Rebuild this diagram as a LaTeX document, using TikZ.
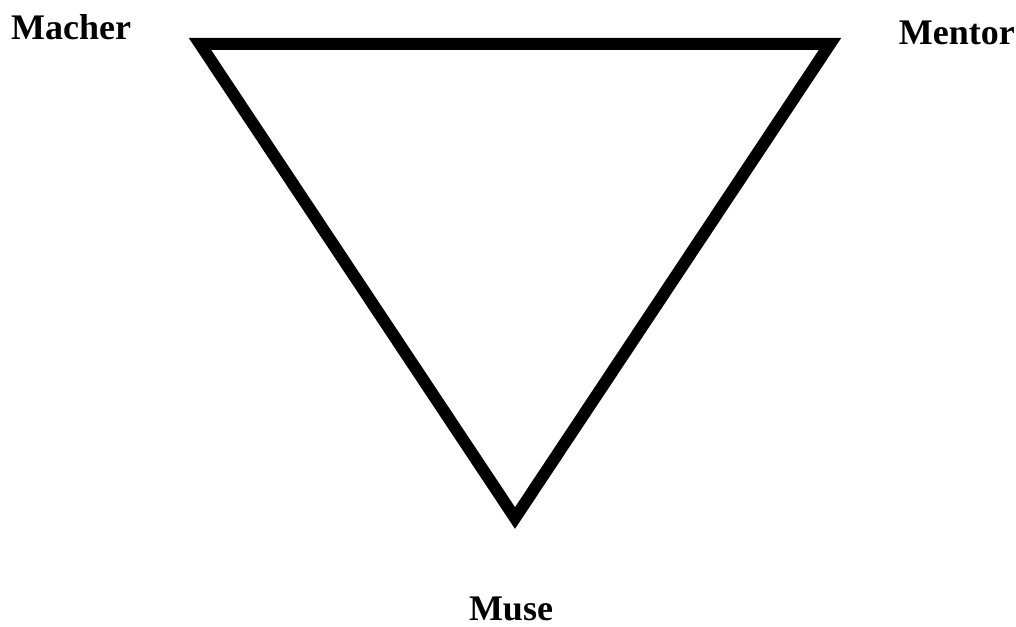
\documentclass[tikz,border=0pt]{standalone}
\usepackage{fontspec}
\setmainfont{Liberation Serif}
\begin{document}
\begin{tikzpicture}[x=1pt,y=-1pt,
  lbl/.style={font=\fontsize{36}{42}\selectfont\bfseries, inner sep=0pt},
  tri/.style={line width=12pt, line join=miter, draw=black}]
\useasboundingbox (0,0) rectangle (1016,626);
\coordinate (ml) at (200,44);
\coordinate (mr) at (830,44);
\coordinate (mu) at (515,518);
\draw[tri] (ml) -- (mr) -- (mu) -- cycle;
\node[lbl, anchor=base west] (macher) at (11,40) {Macher};
\node[lbl, anchor=base east] (mentor) at (1015,45) {Mentor};
\node[lbl, anchor=base] (muse) at (511,620) {Muse};
\end{tikzpicture}
\end{document}
